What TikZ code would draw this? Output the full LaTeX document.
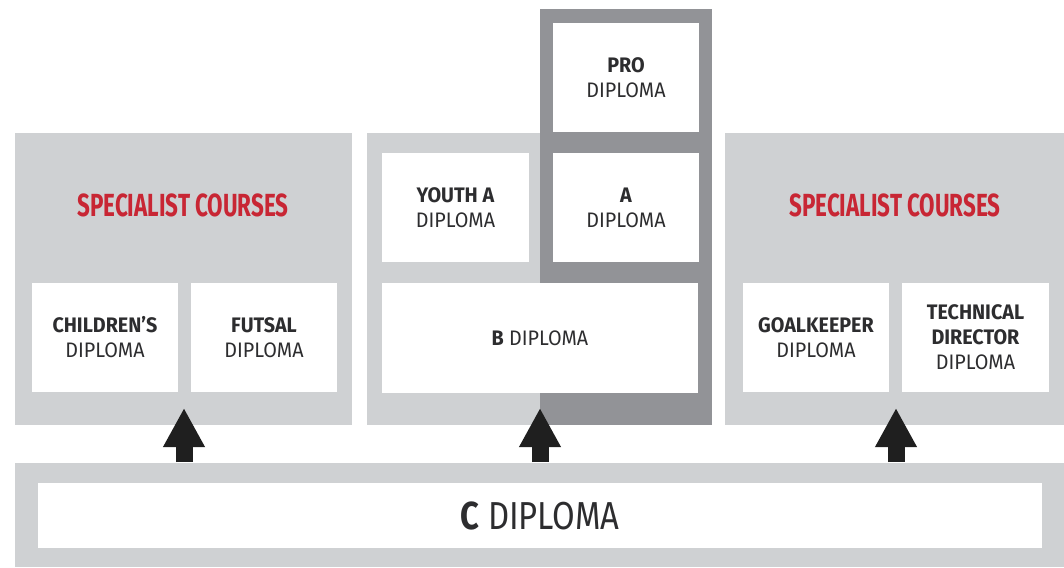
\documentclass[tikz,border=0pt]{standalone}
\usepackage{fontspec}
\setmainfont[FakeStretch=0.94]{Fira Sans}
\newfontfamily\titlefont[FakeStretch=0.7]{Fira Sans}
\newfontfamily\basefont[FakeStretch=0.84]{Fira Sans}
\usetikzlibrary{arrows.meta}
\definecolor{panelgrey}{RGB}{207,209,211}
\definecolor{darkgrey}{RGB}{146,147,151}
\definecolor{titlered}{RGB}{200,38,52}
\definecolor{textgrey}{RGB}{45,45,47}

\begin{document}
\begin{tikzpicture}[x=1pt,y=-1pt,
    diploma/.style={fill=white,minimum width=146pt,minimum height=109pt,inner sep=0pt,
      align=center,text=textgrey,font=\fontsize{21}{25}\selectfont},
    title/.style={text=titlered,font=\titlefont\bfseries\fontsize{32}{35}\selectfont},
    up/.style={line width=17pt,-{Triangle[width=39pt,length=39pt]},black!88}]
  \useasboundingbox (0,0) rectangle (1064,567);

  \fill[panelgrey] (15,133) rectangle (352,425) node (left) {};
  \fill[panelgrey] (367,133) rectangle (540,425) node (mid) {};
  \fill[darkgrey] (540,9) rectangle (712,425) node (top) {};
  \fill[panelgrey] (725,133) rectangle (1064,425) node (right) {};
  \fill[panelgrey] (15,463) rectangle (1064,567) node (base) {};

  \node[title] (spec1) at (183,205) {SPECIALIST COURSES};
  \node[diploma] (child) at (105,337.5) {\textbf{CHILDREN'S}\\DIPLOMA};
  \node[diploma] (futsal) at (264,337.5) {\textbf{FUTSAL}\\DIPLOMA};

  \node[diploma] (pro) at (626,77.5) {\textbf{PRO}\\DIPLOMA};
  \node[diploma,minimum width=147pt] (youth) at (455.5,207.5) {\textbf{YOUTH A}\\DIPLOMA};
  \node[diploma] (adip) at (626,207.5) {\textbf{A}\\DIPLOMA};
  \node[diploma,minimum width=316pt,minimum height=110pt] (bdip) at (540,338) {\textbf{B} DIPLOMA};

  \node[title] (spec2) at (895,205) {SPECIALIST COURSES};
  \node[diploma] (keeper) at (816,337.5) {\textbf{GOALKEEPER}\\DIPLOMA};
  \node[diploma,minimum width=147pt] (techdir) at (975.5,337.5) {\textbf{TECHNICAL}\\\textbf{DIRECTOR}\\DIPLOMA};

  \node[diploma,minimum width=1004pt,minimum height=65pt,font=\basefont\fontsize{39}{42}\selectfont] (cdip) at (540,515.5) {\textbf{C} DIPLOMA};

  \coordinate (c1) at (184,462);
  \coordinate (c2) at (540,462);
  \coordinate (c3) at (896,462);
  \coordinate (t1) at (184,408);
  \coordinate (t2) at (540,408);
  \coordinate (t3) at (896,408);
  \draw[up] (c1) -- (t1);
  \draw[up] (c2) -- (t2);
  \draw[up] (c3) -- (t3);
\end{tikzpicture}
\end{document}
